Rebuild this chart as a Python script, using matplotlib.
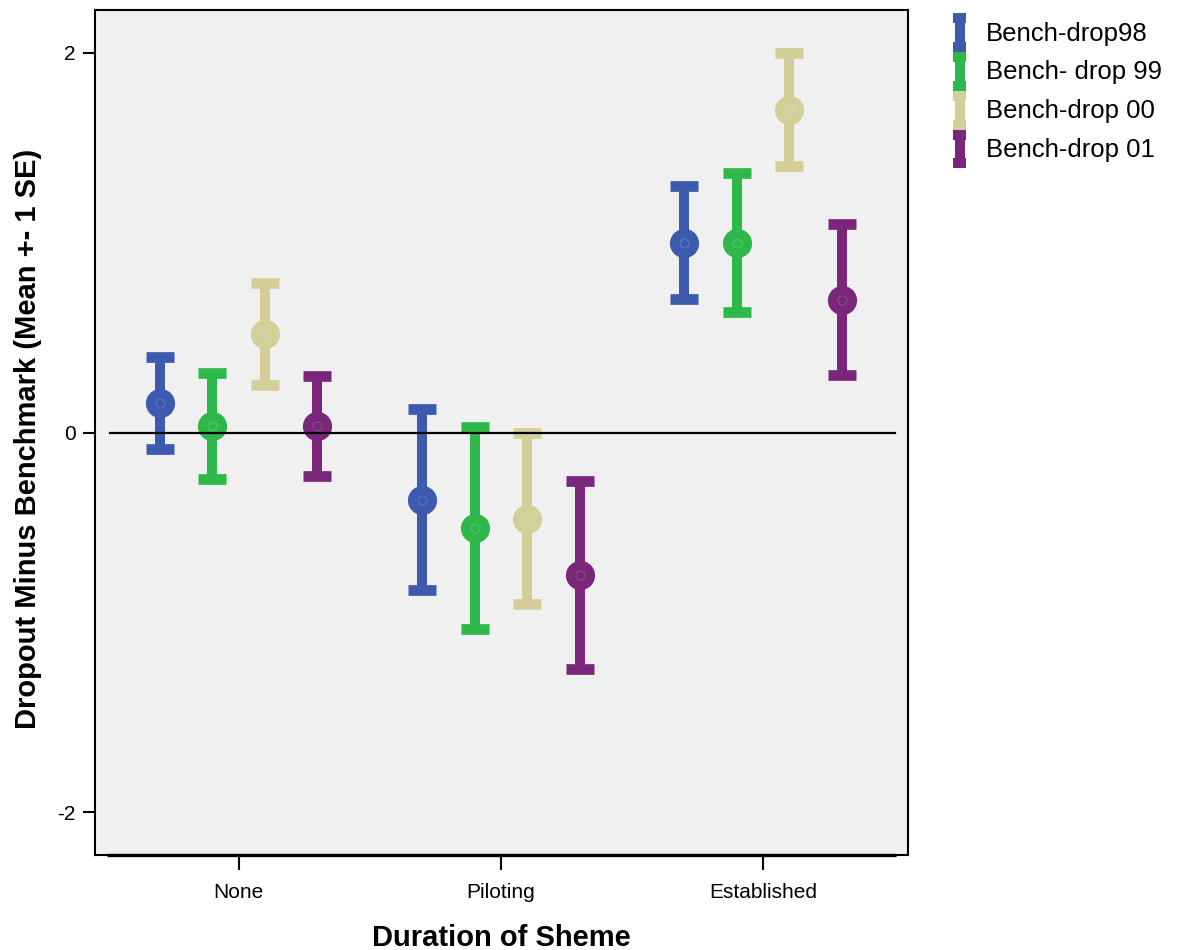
import numpy as np
import matplotlib
matplotlib.use("Agg")
import matplotlib.pyplot as plt
from matplotlib.lines import Line2D
from matplotlib.patches import Rectangle
from matplotlib.legend_handler import HandlerBase
from matplotlib.colors import to_rgb

plt.rcParams['font.family'] = ['Liberation Sans', 'DejaVu Sans']

# scheme duration groups on the x axis
groups = ["None", "Piloting", "Established"]

# dropout minus benchmark, group means and standard errors per year
series = ["Bench-drop98", "Bench- drop 99", "Bench-drop 00", "Bench-drop 01"]
mean_98 = [0.156, -0.353, 0.999]
mean_99 = [0.034, -0.503, 0.999]
mean_00 = [0.518, -0.453, 1.700]
mean_01 = [0.034, -0.750, 0.700]
se_98 = [0.241, 0.478, 0.298]
se_99 = [0.277, 0.530, 0.365]
se_00 = [0.268, 0.452, 0.299]
se_01 = [0.263, 0.493, 0.396]

means = [mean_98, mean_99, mean_00, mean_01]
ses = [se_98, se_99, se_00, se_01]
colors = ["#3d5aae", "#2eb84a", "#d4cf98", "#7a267a"]
offsets = [-0.3, -0.1, 0.1, 0.3]


def lighten(c, k=0.18):
    r, g, b = to_rgb(c)
    return (r + (1 - r) * k, g + (1 - g) * k, b + (1 - b) * k)


class BarGlyph(HandlerBase):
    # vertical bar with square caps, like the error bars in the plot
    def create_artists(self, legend, orig_handle, xdescent, ydescent,
                       width, height, fontsize, trans):
        c = orig_handle.get_color()
        x0, y0 = -xdescent, -ydescent
        cx = x0 + width / 2
        bar = Line2D([cx, cx], [y0, y0 + height], color=c, lw=7.2,
                     solid_capstyle='butt', transform=trans)
        cap_h = 7.2
        top = Rectangle((x0, y0 + height - cap_h), width, cap_h, color=c, lw=0, transform=trans)
        bot = Rectangle((x0, y0), width, cap_h, color=c, lw=0, transform=trans)
        return [bar, top, bot]


fig = plt.figure(figsize=(11.81, 9.5), dpi=100)
ax = fig.add_axes([95 / 1181, 95 / 950, 813 / 1181, 845 / 950])
ax.set_facecolor("#f0f0f0")

x = np.arange(len(groups))
handles = []
for m, s, c, off in zip(means, ses, colors, offsets):
    ax.errorbar(x + off, m, yerr=s, fmt='o', ms=20, color=c, ecolor=c,
                elinewidth=7.2, capsize=10, capthick=7.7, zorder=3)
    # faint inner ring of the mean marker
    ax.plot(x + off, m, 'o', ms=6.5, mfc='none', mec=lighten(c), mew=0.7, zorder=4)
    handles.append(Line2D([], [], color=c))

# zero reference line sits on top of the markers
ax.axhline(0, xmin=0.018, xmax=0.984, color='black', lw=1.6, zorder=5)
# heavier base line inside the frame
ax.plot([0.015, 0.985], [0, 0], transform=ax.transAxes, color='black',
        lw=2.4, clip_on=False, zorder=6, solid_capstyle='butt')

ax.set_xlim(-0.547, 2.552)
ax.set_ylim(-2.224, 2.224)
ax.set_xticks(x)
ax.set_xticklabels(groups)
ax.set_yticks([-2, 0, 2])
ax.set_yticklabels(["-2", "0", "2"])

for sp in ax.spines.values():
    sp.set_linewidth(1.5)
ax.tick_params(axis='x', length=10.8, width=1.5, pad=9, labelsize=15)
ax.tick_params(axis='y', length=8.6, width=1.5, pad=5.5, labelsize=15)

ax.set_xlabel("Duration of Sheme", fontsize=21, fontweight='bold')
ax.xaxis.label.set_va('center')
ax.xaxis.set_label_coords(0.5, -0.098)
ax.set_ylabel("Dropout Minus Benchmark (Mean +- 1 SE)", fontsize=21, fontweight='bold')
ax.yaxis.label.set_va('center')
ax.yaxis.set_label_coords(-0.0824, 0.492)

fig.legend(handles, series, handler_map={Line2D: BarGlyph()},
           loc='upper left', bbox_to_anchor=(953 / 1181, 1 - 13 / 950),
           frameon=False, fontsize=18.5, handlelength=0.52, handleheight=1.95,
           handletextpad=0.75, labelspacing=0, borderpad=0, borderaxespad=0)

fig.savefig("out.png", dpi=100)
